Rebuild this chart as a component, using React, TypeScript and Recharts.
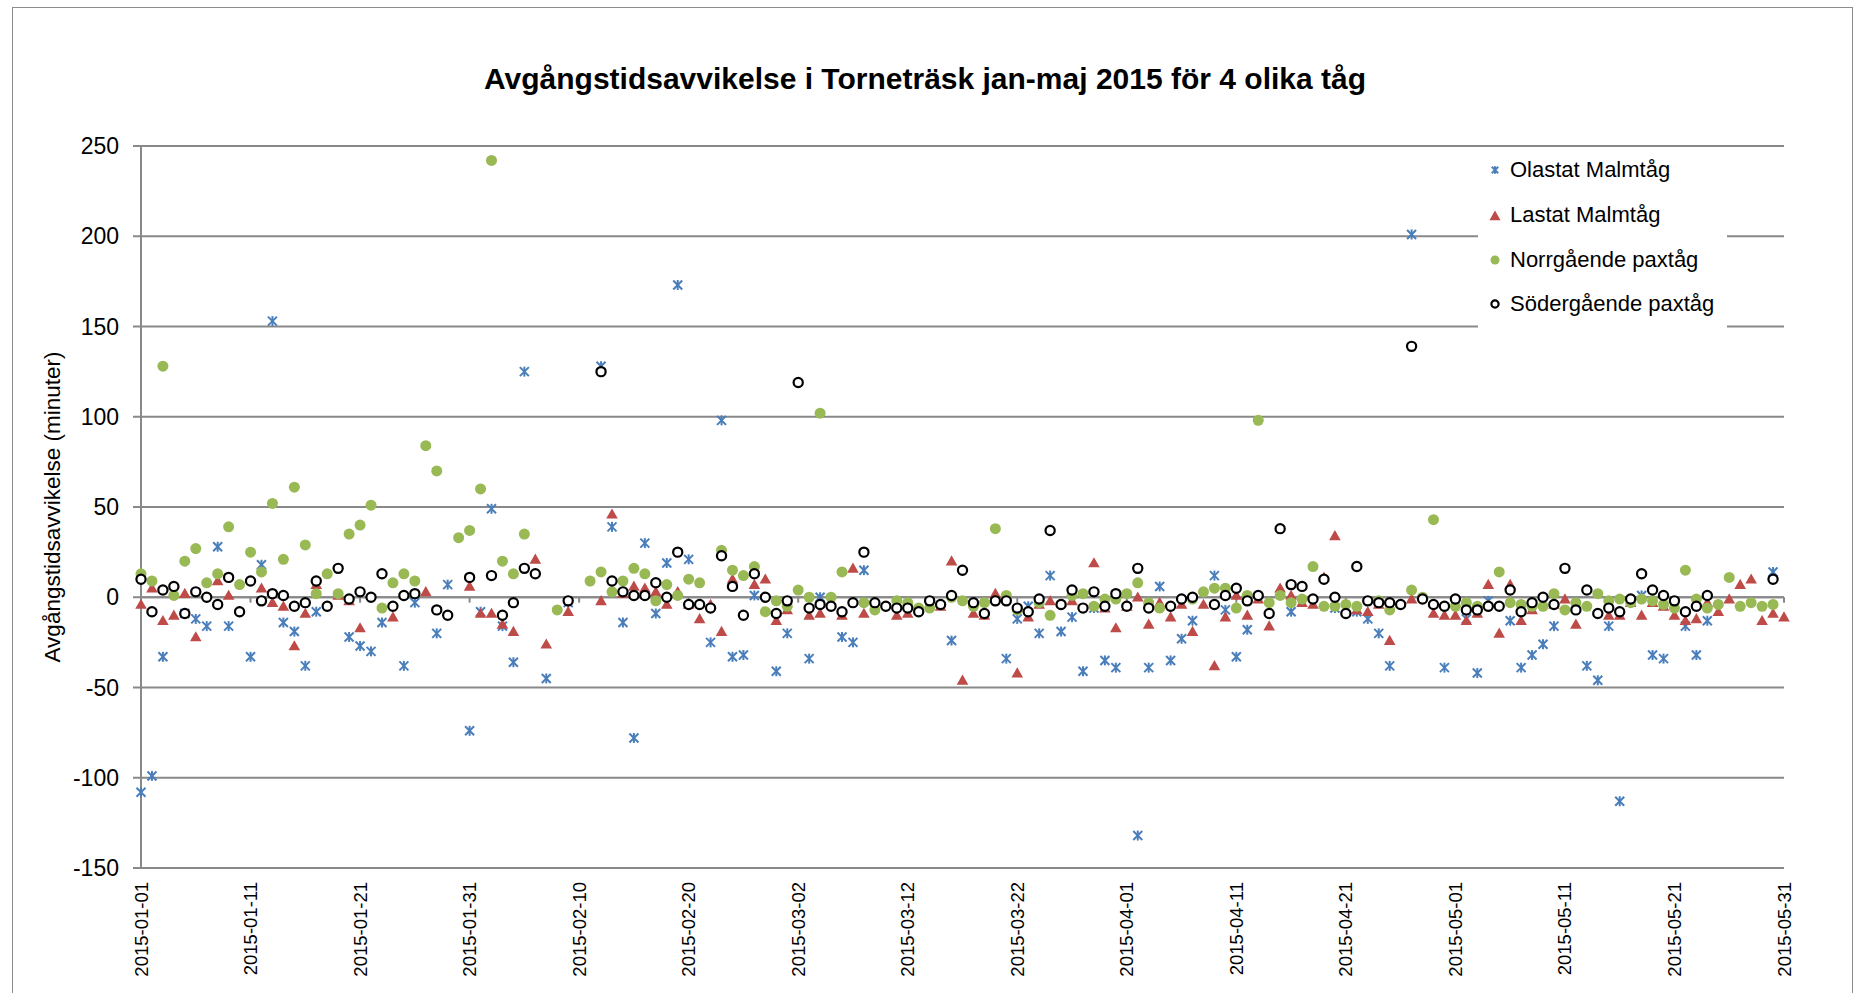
import React from 'react';
import { ScatterChart, Scatter, XAxis, YAxis, CartesianGrid, ReferenceLine } from 'recharts';

const FONT = '"Liberation Sans", Arial, sans-serif';
const GRID = '#898989';

// day index 0 = 2015-01-01, 150 = 2015-05-31
const tickDays = [0, 10, 20, 30, 40, 50, 60, 70, 80, 90, 100, 110, 120, 130, 140, 150];
const tickLabels = [
  '2015-01-01', '2015-01-11', '2015-01-21', '2015-01-31', '2015-02-10', '2015-02-20',
  '2015-03-02', '2015-03-12', '2015-03-22', '2015-04-01', '2015-04-11', '2015-04-21',
  '2015-05-01', '2015-05-11', '2015-05-21', '2015-05-31',
];
const yTicks = [-150, -100, -50, 0, 50, 100, 150, 200, 250];

type V = number | null;
const _ = null;

// Olastat Malmtåg
const olastat: V[] = [
  -108, -99, -33, _, -9, -12, -16, 28, -16, _,
  -33, 18, 153, -14, -19, -38, -8, _, _, -22,
  -27, -30, -14, _, -38, -3, _, -20, 7, _,
  -74, -8, 49, -16, -36, 125, _, -45, _, -3,
  _, _, 128, 39, -14, -78, 30, -9, 19, 173,
  21, _, -25, 98, -33, -32, 1, _, -41, -20,
  _, -34, 0, _, -22, -25, 15, _, _, _,
  _, _, _, _, -24, _, _, _, _, -34,
  -12, -5, -20, 12, -19, -11, -41, -6, -35, -39,
  _, -132, -39, 6, -35, -23, -13, _, 12, -7,
  -33, -18, _, _, _, -8, _, _, _, -6,
  _, -8, -12, -20, -38, _, 201, _, _, -39,
  _, -12, -42, -2, _, -13, -39, -32, -26, -16,
  _, _, -38, -46, -16, -113, _, 1, -32, -34,
  _, -16, -32, -13, _, _, _, _, _, 14,
  _,
];

// Lastat Malmtåg
const lastat: V[] = [
  -4, 5, -13, -10, 2, -22, _, 9, 1, _,
  _, 5, -3, -5, -27, -9, 7, _, 1, -2,
  -17, _, _, -11, _, _, 3, _, _, _,
  6, -9, -9, -15, -19, _, 21, -26, _, -8,
  _, _, -2, 46, 2, 6, 5, 3, -4, 3,
  -4, -12, -4, -19, 10, _, 7, 10, -13, -7,
  _, -10, -9, _, -10, 16, -9, _, _, -10,
  -9, _, _, -5, 20, -46, -9, -10, 2, _,
  -42, -11, -4, -2, _, -2, _, 19, -6, -17,
  -5, 0, -15, -3, -11, -4, -19, -4, -38, -11,
  1, -10, -1, -16, 5, 1, -3, -4, 11, 34,
  _, -7, -8, -4, -24, _, -1, _, -9, -10,
  -10, -13, -9, 7, -20, 7, -13, -7, _, -4,
  -1, -15, _, _, -10, -10, -3, -10, -3, -5,
  -10, -13, -12, -3, -8, -1, 7, 10, -13, -9,
  -11,
];

// Norrgående paxtåg
const norr: V[] = [
  13, 9, 128, 1, 20, 27, 8, 13, 39, 7,
  25, 14, 52, 21, 61, 29, 2, 13, 2, 35,
  40, 51, -6, 8, 13, 9, 84, 70, _, 33,
  37, 60, 242, 20, 13, 35, _, _, -7, _,
  _, 9, 14, 3, 9, 16, 13, -2, 7, 1,
  10, 8, _, 26, 15, 12, 17, -8, -2, -5,
  4, 0, 102, 0, 14, _, -3, -7, _, -2,
  -3, -6, -6, _, 0, -2, -5, -3, 38, 1,
  -7, _, -3, -10, -4, 1, 2, -5, -1, -1,
  2, 8, -3, -6, _, _, -1, 3, 5, 5,
  -6, 1, 98, -3, 1, -3, -1, 17, -5, -5,
  -4, -5, _, -2, -7, _, 4, 0, 43, -5,
  -5, -3, -5, -5, 14, -3, -4, -5, -5, 2,
  -7, -3, -5, 2, -2, -1, -3, -1, -2, -4,
  -6, 15, -1, -6, -4, 11, -5, -3, -5, -4,
  _,
];

// Södergående paxtåg
const soder: V[] = [
  10, -8, 4, 6, -9, 3, 0, -4, 11, -8,
  9, -2, 2, 1, -5, -3, 9, -5, 16, -1,
  3, 0, 13, -5, 1, 2, _, -7, -10, _,
  11, _, 12, -10, -3, 16, 13, _, _, -2,
  _, _, 125, 9, 3, 1, 1, 8, 0, 25,
  -4, -4, -6, 23, 6, -10, 13, 0, -9, -2,
  119, -6, -4, -5, -8, -3, 25, -3, -5, -6,
  -6, -8, -2, -4, 1, 15, -3, -9, -2, -2,
  -6, -8, -1, 37, -4, 4, -6, 3, -5, 2,
  -5, 16, -6, _, -5, -1, 0, _, -4, 1,
  5, -2, 1, -9, 38, 7, 6, -1, 10, 0,
  -9, 17, -2, -3, -3, -4, 139, -1, -4, -5,
  -1, -7, -7, -5, -5, 4, -8, -3, 0, -4,
  16, -7, 4, -9, -6, -8, -1, 13, 4, 1,
  -2, -8, -5, 1, _, _, _, _, _, 10,
  _,
];

const toPoints = (vals: V[]) =>
  vals.map((v, i) => (v === null ? null : { x: i, y: v })).filter(Boolean) as { x: number; y: number }[];

const BLUE = '#4a7ebb';
const RED = '#be4b48';
const GREEN = '#98b954';

const StarMark = ({ cx, cy, s = 4.5 }: any) => (
  <g stroke={BLUE} strokeWidth={2}>
    <line x1={cx - s} y1={cy - s} x2={cx + s} y2={cy + s} />
    <line x1={cx - s} y1={cy + s} x2={cx + s} y2={cy - s} />
    <line x1={cx} y1={cy - s - 0.5} x2={cx} y2={cy + s + 0.5} />
  </g>
);
const TriMark = ({ cx, cy, s = 5.8 }: any) => (
  <polygon
    points={`${cx},${cy - s} ${cx + s},${cy + s * 0.75} ${cx - s},${cy + s * 0.75}`}
    fill={RED}
  />
);
const DotMark = ({ cx, cy, r = 5.5 }: any) => <circle cx={cx} cy={cy} r={r} fill={GREEN} />;
const RingMark = ({ cx, cy, r = 4.6 }: any) => (
  <circle cx={cx} cy={cy} r={r} fill="#fff" stroke="#000" strokeWidth={2.2} />
);

const legendItems = [
  { name: 'Olastat Malmtåg', mark: <StarMark cx={8} cy={8} s={3.2} /> },
  { name: 'Lastat Malmtåg', mark: <TriMark cx={8} cy={9} s={5.5} /> },
  { name: 'Norrgående paxtåg', mark: <DotMark cx={8} cy={8} r={4.5} /> },
  { name: 'Södergående paxtåg', mark: <RingMark cx={8} cy={8} r={3.6} /> },
];

const XTick = ({ x, y, payload }: any) => {
  const idx = tickDays.indexOf(payload.value);
  return (
    <text
      x={x}
      y={y + 12}
      transform={`rotate(-90, ${x}, ${y + 12})`}
      textAnchor="end"
      dominantBaseline="central"
      fontSize={18.5}
      fontFamily={FONT}
      fill="#000"
    >
      {tickLabels[idx]}
    </text>
  );
};

const YTick = ({ y, payload }: any) => (
  <text x={119} y={y} textAnchor="end" dominantBaseline="central" fontSize={23} fontFamily={FONT} fill="#000">
    {payload.value}
  </text>
);

export default function App() {
  const W = 1859;
  const H = 993;
  return (
    <div style={{ position: 'absolute', left: 0, top: 0, width: W, height: H, background: '#fff', overflow: 'hidden' }}>
      <div
        style={{
          position: 'absolute', left: 12, top: 7, width: 1841, height: 1000,
          border: '1.5px solid #8c8c8c', boxSizing: 'border-box',
        }}
      />
      <div
        style={{
          position: 'absolute', left: 0, width: 1850, top: 62, textAlign: 'center',
          fontFamily: FONT, fontWeight: 'bold', fontSize: 30, color: '#000', whiteSpace: 'nowrap',
        }}
      >
        Avgångstidsavvikelse i Torneträsk jan-maj 2015 för 4 olika tåg
      </div>
      <div
        style={{
          position: 'absolute', left: 53, top: 507, transform: 'translate(-50%, -50%) rotate(-90deg)',
          fontFamily: FONT, fontSize: 22.5, color: '#000', whiteSpace: 'nowrap',
        }}
      >
        Avgångstidsavvikelse (minuter)
      </div>
      <div style={{ position: 'absolute', left: 0, top: 0 }}>
        <ScatterChart width={W} height={H} margin={{ top: 146, right: 75, bottom: 0, left: 0 }}>
          <CartesianGrid horizontal vertical={false} stroke={GRID} strokeWidth={2} />
          <XAxis
            type="number"
            dataKey="x"
            domain={[0, 150]}
            ticks={tickDays}
            interval={0}
            height={125}
            axisLine={false}
            tickLine={false}
            tickSize={0}
            tick={<XTick />}
          />
          <YAxis
            type="number"
            dataKey="y"
            domain={[-150, 250]}
            ticks={yTicks}
            interval={0}
            width={141}
            axisLine={{ stroke: GRID, strokeWidth: 2 }}
            tickLine={{ stroke: GRID, strokeWidth: 2 }}
            tickSize={8}
            tick={<YTick />}
          />
          <ReferenceLine y={0} stroke={GRID} strokeWidth={2} />
          {tickDays.map((d) => (
            <ReferenceLine
              key={d}
              segment={[{ x: d, y: 0 }, { x: d, y: -3 }]}
              stroke={GRID}
              strokeWidth={2}
            />
          ))}
          <Scatter name="Olastat Malmtåg" data={toPoints(olastat)} shape={(p: any) => <StarMark cx={p.cx} cy={p.cy} />} isAnimationActive={false} />
          <Scatter name="Lastat Malmtåg" data={toPoints(lastat)} shape={(p: any) => <TriMark cx={p.cx} cy={p.cy} />} isAnimationActive={false} />
          <Scatter name="Norrgående paxtåg" data={toPoints(norr)} shape={(p: any) => <DotMark cx={p.cx} cy={p.cy} />} isAnimationActive={false} />
          <Scatter name="Södergående paxtåg" data={toPoints(soder)} shape={(p: any) => <RingMark cx={p.cx} cy={p.cy} />} isAnimationActive={false} />
        </ScatterChart>
      </div>
      <div
        style={{
          position: 'absolute', left: 1478, top: 148, width: 249, paddingBottom: 8,
          background: '#fff', fontFamily: FONT,
        }}
      >
        {legendItems.map((it) => (
          <div key={it.name} style={{ height: 44.7, display: 'flex', alignItems: 'center' }}>
            <svg width={16} height={16} style={{ marginLeft: 9, marginRight: 7 }}>
              {it.mark}
            </svg>
            <span style={{ fontSize: 22, color: '#000', whiteSpace: 'nowrap' }}>{it.name}</span>
          </div>
        ))}
      </div>
    </div>
  );
}
